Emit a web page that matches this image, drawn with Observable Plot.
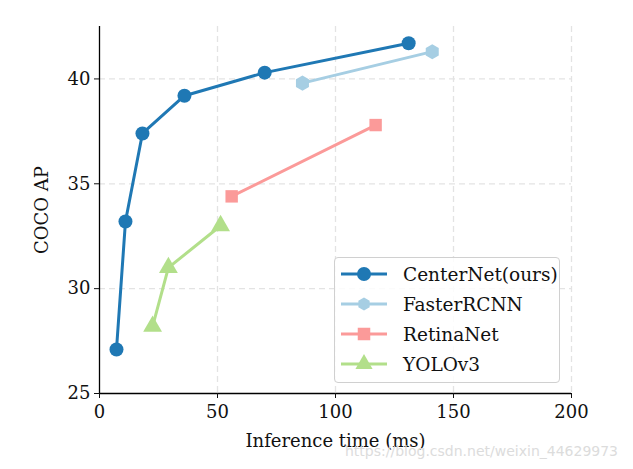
<!DOCTYPE html>
<html><head><meta charset="utf-8">
<script src="https://cdn.jsdelivr.net/npm/d3@7"></script>
<script src="https://cdn.jsdelivr.net/npm/@observablehq/plot@0.6"></script>
<style>
html,body{margin:0;padding:0;background:#fff;}
#wrap{position:relative;width:633px;height:469px;}
#legend{position:absolute;left:334px;top:257px;width:226px;height:126px;border:1.5px solid #d0d0d0;border-radius:4px;background:rgba(255,255,255,0.85);box-sizing:border-box;font-family:"DejaVu Serif",serif;font-size:18.5px;color:#111;}
.row{position:absolute;left:6px;height:30px;display:flex;align-items:center;}
.row svg{margin-right:16px;}
#wm{position:absolute;left:345px;top:443px;font-family:"DejaVu Sans",sans-serif;font-size:14px;color:#dcdcdc;white-space:nowrap;}
</style></head>
<body><div id="wrap"></div>
<script>
const models = ["CenterNet(ours)", "FasterRCNN", "RetinaNet", "YOLOv3"];
const colors = ["#1f78b4", "#a6cee3", "#fb9a99", "#b2df8a"];
const symbols = ["circle", "hexagon", "square", "triangle"];
const sizes = [7, 6.5, 7, 7];
const centerTime = [7.2, 11, 18.2, 36, 70, 131];
const centerAP = [27.1, 33.2, 37.4, 39.2, 40.3, 41.7];
const fasterTime = [86, 141];
const fasterAP = [39.8, 41.3];
const retinaTime = [56, 117];
const retinaAP = [34.4, 37.8];
const yoloTime = [22.5, 29.2, 51.3];
const yoloAP = [28.2, 31.0, 33.0];
const xTicks = [0, 50, 100, 150, 200];
const yTicks = [25, 30, 35, 40];

const series = [[centerTime, centerAP], [fasterTime, fasterAP], [retinaTime, retinaAP], [yoloTime, yoloAP]];
const data = series.flatMap(([t, a], i) => t.map((v, j) => ({model: models[i], time: v, ap: a[j]})));

const marks = [
  Plot.gridX(xTicks.slice(1), {stroke: "#e3e3e3", strokeOpacity: 1, strokeDasharray: "6,4", strokeWidth: 1.3}),
  Plot.gridY(yTicks.slice(1), {stroke: "#e3e3e3", strokeOpacity: 1, strokeDasharray: "6,4", strokeWidth: 1.3}),
  Plot.ruleX([0], {stroke: "#000", strokeWidth: 1.3}),
  Plot.ruleY([25], {stroke: "#000", strokeWidth: 1.3}),
  Plot.axisX({ticks: xTicks, tickSize: 5, tickPadding: 7, fontSize: 18, label: "Inference time (ms)", labelAnchor: "center", labelArrow: "none", labelOffset: 53}),
  Plot.axisY({ticks: yTicks, tickSize: 5, tickPadding: 4, fontSize: 18, label: "COCO AP", labelAnchor: "center", labelArrow: "none", labelOffset: 64})
];
models.forEach((m, i) => {
  const d = data.filter(r => r.model === m);
  marks.push(Plot.line(d, {x: "time", y: "ap", stroke: colors[i], strokeWidth: 3}));
  marks.push(Plot.dot(d, {x: "time", y: "ap", fill: colors[i], symbol: symbols[i], r: sizes[i], stroke: "none"}));
});

const chart = Plot.plot({
  width: 633, height: 469,
  marginLeft: 99, marginRight: 62, marginTop: 26, marginBottom: 76,
  x: {domain: [0, 200]},
  y: {domain: [25, 42.5]},
  style: {fontFamily: "DejaVu Serif, serif", fontSize: "18px", color: "#111", background: "#fff"},
  marks
});
const wrap = document.getElementById("wrap");
wrap.appendChild(chart);

const leg = document.createElement("div");
leg.id = "legend";
const ns = "http://www.w3.org/2000/svg";
models.forEach((m, i) => {
  const row = document.createElement("div");
  row.className = "row";
  row.style.top = (1 + i * 30) + "px";
  const svg = document.createElementNS(ns, "svg");
  svg.setAttribute("width", 46); svg.setAttribute("height", 30);
  const ln = document.createElementNS(ns, "line");
  ln.setAttribute("x1", 0); ln.setAttribute("x2", 46); ln.setAttribute("y1", 15); ln.setAttribute("y2", 15);
  ln.setAttribute("stroke", colors[i]); ln.setAttribute("stroke-width", 3);
  svg.appendChild(ln);
  const p = document.createElementNS(ns, "path");
  const r = sizes[i];
  let path;
  if (symbols[i] === "hexagon") {
    path = d3.range(6).map(k => { const a = Math.PI / 3 * k + Math.PI / 6; return [r * Math.cos(a), r * Math.sin(a)]; });
    path = "M" + path.map(q => q.join(",")).join("L") + "Z";
  } else {
    const area = symbols[i] === "circle" ? Math.PI * r * r : symbols[i] === "square" ? (2 * r) * (2 * r) * 0.8 : r * r * 2.6;
    path = d3.symbol(symbols[i] === "circle" ? d3.symbolCircle : symbols[i] === "square" ? d3.symbolSquare : d3.symbolTriangle, area)();
  }
  p.setAttribute("d", path);
  p.setAttribute("transform", "translate(23,15)");
  p.setAttribute("fill", colors[i]);
  svg.appendChild(p);
  row.appendChild(svg);
  const t = document.createElement("span");
  t.textContent = m;
  row.appendChild(t);
  leg.appendChild(row);
});
wrap.appendChild(leg);

const wm = document.createElement("div");
wm.id = "wm";
wm.textContent = "https://blog.csdn.net/weixin_44629973";
wrap.appendChild(wm);
</script>
</body></html>
